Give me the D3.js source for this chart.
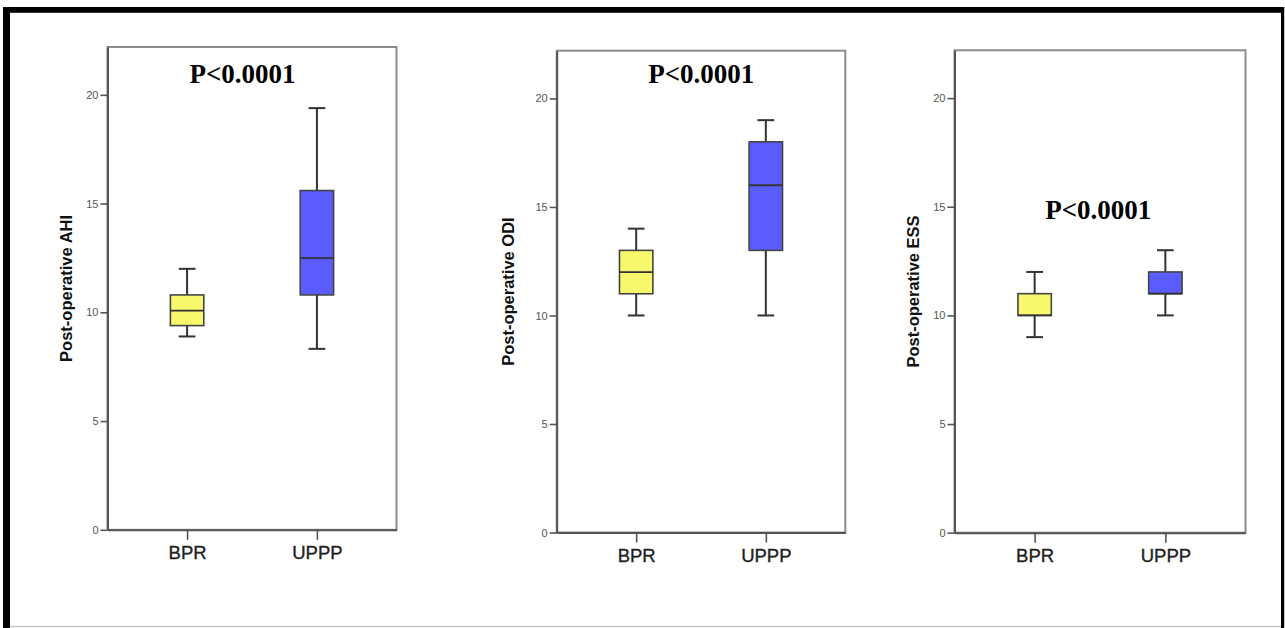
<!DOCTYPE html>
<html>
<head>
<meta charset="utf-8">
<script src="https://cdn.jsdelivr.net/npm/d3@7"></script>
<style>
  html, body { margin: 0; padding: 0; background: #fff; }
  svg { display: block; }
</style>
</head>
<body>
<svg id="chart" width="1285" height="628"></svg>
<script>
// ---- data ----
const categories = ["BPR", "UPPP"];
const yTicks = [0, 5, 10, 15, 20];
const titles = ["P<0.0001", "P<0.0001", "P<0.0001"];
const yLabels = ["Post-operative AHI", "Post-operative ODI", "Post-operative ESS"];
// [lower whisker, Q1, median, Q3, upper whisker] for BPR and UPPP
const ahiStats = [[8.89, 9.39, 10.08, 10.8, 12.0], [8.32, 10.8, 12.49, 15.6, 19.39]];
const odiStats = [[10, 11, 12, 13, 14], [10, 13, 16, 18, 19]];
const essStats = [[9, 10, 10, 11, 12], [10, 11, 11, 12, 13]];
const seriesStats = [ahiStats, odiStats, essStats];
const boxColors = ["#f8f86c", "#5b5cff"];

// ---- layout ----
const layout = [
  { left: 107.5, right: 396.5, top: 47, bottom: 529.8, titleX: 242.5, titleY: 83.3, labelX: 60 },
  { left: 556.7, right: 845.3, top: 50.7, bottom: 532.5, titleX: 701.3, titleY: 83.3, labelX: 502 },
  { left: 954.5, right: 1245.5, top: 50.3, bottom: 532.7, titleX: 1098.3, titleY: 219.3, labelX: 907 }
];

const svg = d3.select("#chart");

// outer frame
svg.append("rect").attr("x", 0).attr("y", 0).attr("width", 1285).attr("height", 628).attr("fill", "#fff");
svg.append("rect").attr("x", 3).attr("y", 7).attr("width", 1281).attr("height", 5.8).attr("fill", "#000");
svg.append("rect").attr("x", 3).attr("y", 7).attr("width", 7).attr("height", 621).attr("fill", "#000");
svg.append("rect").attr("x", 1281).attr("y", 7).attr("width", 3.2).attr("height", 621).attr("fill", "#000");
svg.append("line").attr("x1", 10).attr("x2", 1281).attr("y1", 626.5).attr("y2", 626.5)
  .attr("stroke", "#c8c8c8").attr("stroke-width", 1.5);

layout.forEach((L, i) => {
  const stats = seriesStats[i];
  const y = d3.scaleLinear().domain([0, 22.2]).range([L.bottom, L.top]);
  const x = d3.scalePoint().domain(categories).range([L.left, L.right]).padding(0.613);
  const g = svg.append("g");

  // plot frame
  g.append("rect")
    .attr("x", L.left).attr("y", L.top)
    .attr("width", L.right - L.left).attr("height", L.bottom - L.top)
    .attr("fill", "none").attr("stroke", "#8c8c8c").attr("stroke-width", 2);

  // y axis
  const yAxis = d3.axisLeft(y).tickValues(yTicks).tickSizeInner(7).tickSizeOuter(0).tickPadding(2).tickFormat(d3.format("d"));
  const ya = g.append("g").attr("transform", `translate(${L.left},0)`).call(yAxis);
  ya.select(".domain").attr("stroke", "#555").attr("stroke-width", 2);
  ya.selectAll(".tick line").attr("stroke", "#555").attr("stroke-width", 1.6);
  ya.selectAll(".tick text").attr("fill", "#555").style("font-family", "Liberation Sans, Arial, sans-serif")
    .style("font-size", "11px");

  // x axis
  const xAxis = d3.axisBottom(x).tickSizeInner(10).tickSizeOuter(0).tickPadding(6);
  const xa = g.append("g").attr("transform", `translate(0,${L.bottom})`).call(xAxis);
  xa.select(".domain").attr("stroke", "#555").attr("stroke-width", 2);
  xa.selectAll(".tick line").attr("stroke", "#555").attr("stroke-width", 1.6);
  xa.selectAll(".tick text").attr("fill", "#222").style("font-family", "Liberation Sans, Arial, sans-serif")
    .style("font-size", "18.5px").attr("stroke", "#222").attr("stroke-width", 0.35);

  // y label
  const fs = 16.5;
  g.append("text")
    .attr("transform", `translate(${L.labelX + fs * 0.72},${(L.top + L.bottom) / 2}) rotate(-90)`)
    .attr("text-anchor", "middle")
    .style("font-family", "Liberation Sans, Arial, sans-serif")
    .style("font-weight", "bold").style("font-size", fs + "px")
    .attr("fill", "#111")
    .text(yLabels[i]);

  // title
  g.append("text")
    .attr("x", L.titleX).attr("y", L.titleY)
    .attr("text-anchor", "middle")
    .style("font-family", "Liberation Serif, 'Times New Roman', serif")
    .style("font-weight", "bold").style("font-size", "27px")
    .attr("fill", "#000")
    .text(titles[i]);

  // boxes
  const boxW = 33.4, capW = 16.7;
  categories.forEach((c, j) => {
    const [lo, q1, med, q3, hi] = stats[j];
    const cx = x(c);
    const bg = g.append("g");
    bg.append("line").attr("x1", cx).attr("x2", cx).attr("y1", y(hi)).attr("y2", y(q3))
      .attr("stroke", "#333").attr("stroke-width", 2);
    bg.append("line").attr("x1", cx).attr("x2", cx).attr("y1", y(q1)).attr("y2", y(lo))
      .attr("stroke", "#333").attr("stroke-width", 2);
    bg.append("line").attr("x1", cx - capW / 2).attr("x2", cx + capW / 2).attr("y1", y(hi)).attr("y2", y(hi))
      .attr("stroke", "#333").attr("stroke-width", 2);
    bg.append("line").attr("x1", cx - capW / 2).attr("x2", cx + capW / 2).attr("y1", y(lo)).attr("y2", y(lo))
      .attr("stroke", "#333").attr("stroke-width", 2);
    bg.append("rect").attr("x", cx - boxW / 2).attr("y", y(q3))
      .attr("width", boxW).attr("height", y(q1) - y(q3))
      .attr("fill", boxColors[j]).attr("stroke", "#444").attr("stroke-width", 1.6);
    bg.append("line").attr("x1", cx - boxW / 2).attr("x2", cx + boxW / 2).attr("y1", y(med)).attr("y2", y(med))
      .attr("stroke", "#333").attr("stroke-width", 1.8);
  });
});
</script>
</body>
</html>
